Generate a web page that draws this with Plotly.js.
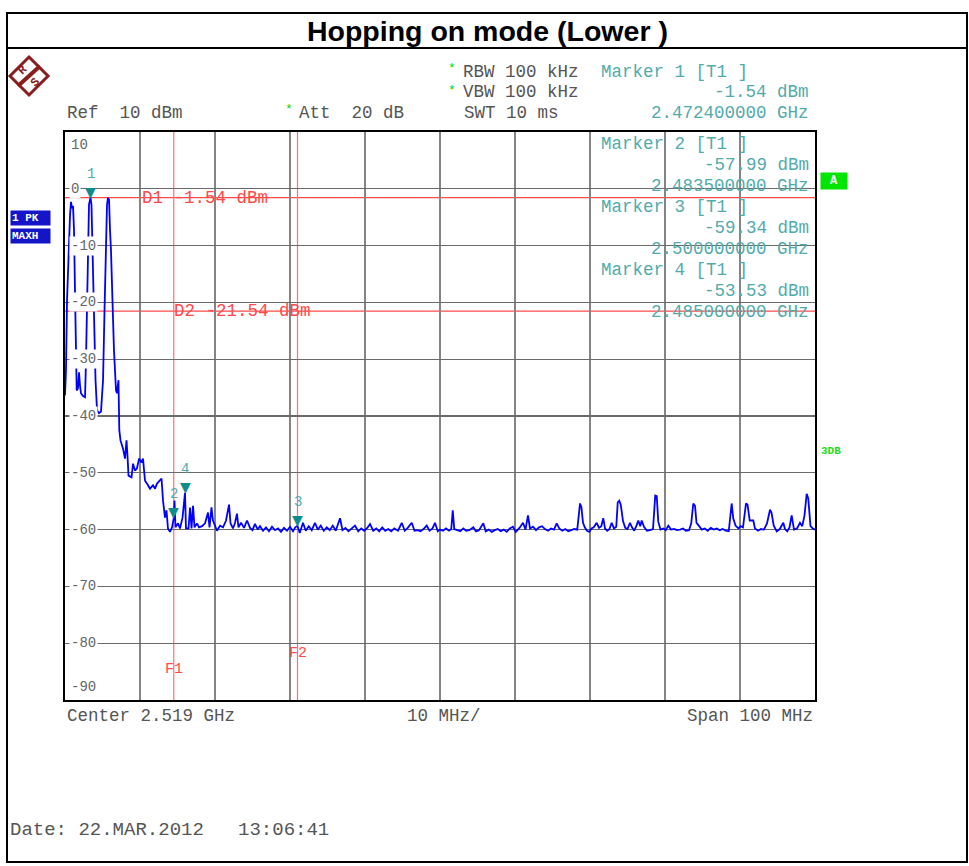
<!DOCTYPE html>
<html>
<head>
<meta charset="utf-8">
<script src="https://cdn.plot.ly/plotly-3.0.1.min.js"></script>
<style>html,body{margin:0;padding:0;background:#fff}#chart{width:969px;height:866px}</style>
</head>
<body>
<div id="chart"></div>
<script>
// ---- Data (frequency in MHz, level in dBm) ----
const freqMHz = [
2469.0,2469.13,2469.27,2469.47,2469.67,2469.8,2469.93,2470.07,2470.2,2470.33,2470.47,2470.56,2470.73,2470.87,2471.0,2471.13,2471.4,2471.67,2471.8,2471.93,
2472.07,2472.2,2472.4,2472.53,2472.67,2472.87,2473.07,2473.27,2473.53,2473.8,2474.07,2474.27,2474.47,2474.6,2474.73,2474.87,2475.0,2475.13,2475.33,2475.53,
2475.8,2475.93,2476.13,2476.24,2476.4,2476.73,2477.0,2477.2,2477.33,2477.47,2477.87,2478.07,2478.33,2478.6,2478.87,2479.2,2479.4,2479.67,2480.07,2480.33,
2480.73,2481.0,2481.27,2481.67,2481.87,2482.07,2482.33,2482.53,2482.73,2483.0,2483.27,2483.5,2483.6,2483.73,2484.07,2484.33,2484.67,2485.0,2485.13,2485.47,
2485.67,2485.87,2486.07,2486.27,2486.6,2486.87,2487.27,2487.67,2488.07,2488.27,2488.53,2488.73,2489.0,2489.27,2489.67,2490.07,2490.47,2490.87,2491.07,2491.4,
2491.67,2491.93,2492.13,2492.47,2492.87,2493.27,2493.67,2494.0,2494.33,2494.7,2495.0,2495.4,2495.8,2496.2,2496.6,2497.0,2497.4,2497.8,2498.2,2498.6,
2499.0,2499.4,2499.7,2500.0,2500.3,2500.73,2501.1,2501.5,2501.9,2502.33,2502.7,2503.1,2503.5,2503.9,2504.3,2504.7,2505.1,2505.67,2506.0,2506.4,
2506.8,2507.2,2507.67,2508.1,2508.5,2508.9,2509.3,2509.67,2510.1,2510.5,2510.9,2511.3,2511.7,2512.1,2512.5,2512.9,2513.4,2513.9,2514.3,2514.7,
2515.23,2515.6,2516.0,2516.4,2516.8,2517.23,2517.6,2518.0,2518.33,2518.7,2519.0,2519.4,2519.8,2520.2,2520.5,2520.7,2520.9,2521.3,2521.7,2522.1,
2522.5,2522.9,2523.44,2523.8,2524.2,2524.77,2525.1,2525.5,2525.9,2526.3,2526.7,2527.1,2527.5,2527.9,2528.3,2528.73,2529.1,2529.6,2530.07,2530.4,
2530.73,2531.0,2531.4,2531.8,2532.2,2532.6,2533.0,2533.4,2533.8,2534.2,2534.56,2534.9,2535.3,2535.7,2536.1,2536.5,2536.9,2537.3,2537.5,2537.67,
2537.85,2538.07,2538.3,2538.6,2538.9,2539.2,2539.5,2539.89,2540.2,2540.5,2540.77,2541.0,2541.3,2541.6,2541.89,2542.2,2542.5,2542.7,2542.9,2543.1,
2543.4,2543.7,2544.0,2544.33,2544.6,2544.9,2545.2,2545.44,2545.7,2545.89,2546.2,2546.6,2547.0,2547.4,2547.7,2547.9,2548.1,2548.4,2548.8,2549.1,
2549.44,2549.8,2550.2,2550.6,2551.0,2551.4,2551.8,2552.2,2552.5,2552.77,2553.0,2553.2,2553.5,2553.9,2554.3,2554.7,2555.1,2555.5,2555.9,2556.3,
2556.7,2557.1,2557.5,2557.89,2558.1,2558.4,2558.8,2559.1,2559.4,2559.8,2560.0,2560.3,2560.77,2561.0,2561.4,2561.8,2562.2,2562.6,2563.0,2563.2,
2563.5,2563.9,2564.3,2564.77,2565.0,2565.3,2565.6,2565.89,2566.2,2566.6,2567.0,2567.3,2567.6,2567.89,2568.1,2568.4,2568.7,2569.0
];
const levelDbm = [
-36.4,-32.0,-19.6,-10.8,-4.6,-2.3,-3.4,-3.0,-7.2,-17.8,-28.4,-35.5,-35.1,-32.3,-34.6,-36.0,-36.5,-36.7,-30.2,-19.6,
-9.0,-2.8,-1.54,-2.8,-10.8,-23.1,-33.7,-39.0,-39.5,-39.2,-33.7,-21.4,-9.0,-2.8,-1.6,-1.9,-7.2,-10.8,-19.6,-28.4,
-35.5,-36.0,-33.7,-42.5,-44.3,-45.7,-47.5,-44.3,-46.9,-50.5,-50.8,-48.4,-49.6,-49.2,-47.5,-48.2,-47.5,-51.4,-52.2,-52.8,
-52.2,-52.8,-51.9,-51.4,-51.0,-54.9,-57.9,-56.6,-59.8,-60.4,-59.6,-57.99,-54.9,-59.6,-58.9,-59.8,-57.9,-53.53,-59.8,-59.8,
-56.1,-59.8,-55.8,-59.6,-58.9,-59.6,-59.4,-58.9,-57.0,-59.6,-56.1,-58.4,-59.3,-60.2,-59.3,-59.6,-58.4,-55.6,-58.9,-59.8,
-58.8,-57.2,-59.6,-58.8,-59.7,-58.4,-59.7,-60.1,-59.0,-60.0,-59.4,-60.2,-59.6,-60.3,-59.5,-60.1,-59.8,-60.4,-59.7,-60.2,
-59.5,-60.3,-59.6,-59.34,-60.6,-58.8,-60.2,-59.4,-60.1,-58.8,-60.0,-59.3,-60.2,-59.6,-60.1,-59.3,-60.2,-58.0,-60.1,-59.7,
-60.3,-59.8,-59.3,-60.3,-59.8,-60.2,-59.7,-59.0,-60.2,-59.8,-60.3,-59.6,-60.2,-59.9,-60.3,-59.8,-60.2,-58.8,-60.2,-59.7,
-58.8,-60.2,-60.1,-60.3,-59.9,-59.3,-60.2,-59.8,-58.8,-60.3,-60.0,-60.2,-59.8,-60.2,-59.9,-56.6,-59.9,-60.1,-60.3,-59.8,
-60.2,-60.1,-59.6,-60.3,-60.1,-58.9,-60.3,-60.0,-60.4,-60.1,-59.9,-60.3,-60.0,-60.4,-59.8,-59.5,-60.4,-59.7,-58.8,-60.0,
-57.5,-59.8,-59.5,-60.1,-59.6,-59.4,-59.9,-60.2,-59.8,-60.0,-58.9,-59.8,-60.2,-59.9,-60.3,-60.1,-59.9,-60.0,-57.5,-55.4,
-56.0,-58.8,-59.6,-60.2,-60.4,-59.8,-59.6,-58.8,-59.7,-59.4,-58.0,-59.8,-60.2,-59.9,-58.8,-59.8,-59.5,-55.2,-54.9,-55.6,
-58.5,-59.7,-59.9,-58.8,-59.6,-60.2,-59.3,-58.4,-59.4,-58.4,-59.5,-60.2,-60.1,-59.9,-54.0,-54.1,-58.6,-60.0,-59.8,-60.1,
-59.3,-60.0,-59.9,-60.1,-60.0,-59.8,-60.2,-60.1,-58.9,-55.4,-55.8,-58.8,-59.3,-60.0,-59.8,-60.2,-59.7,-60.0,-59.8,-60.1,
-59.9,-60.2,-60.3,-55.4,-58.0,-59.3,-59.8,-59.4,-59.6,-55.4,-55.6,-58.4,-58.4,-59.8,-60.2,-59.9,-60.0,-58.9,-56.5,-57.0,
-59.3,-60.3,-59.9,-58.8,-59.9,-60.3,-59.6,-57.5,-60.0,-59.8,-58.8,-59.4,-57.5,-53.7,-54.5,-59.4,-59.8,-60.0
];
const markerNames = ['1','2','3','4'];
const markerFreqMHz = [2472.4, 2483.5, 2500.0, 2485.0];
const markerLevelDbm = [-1.54, -57.99, -59.34, -53.53];
const markerFreqText = ['2.472400000 GHz','2.483500000 GHz','2.500000000 GHz','2.485000000 GHz'];
const dLineNames = ['D1','D2'];
const dLineLevels = [-1.54, -21.54];
const fLineNames = ['F1','F2'];
const fLineFreqs = [2483.5, 2500.0];
const yTickVals = [10,0,-10,-20,-30,-40,-50,-60,-70,-80,-90];
const yTickText = ['10','0','-10','-20','-30','-40','-50','-60','-70','-80','-90'];
const xStart = 2469, xStop = 2569;

// ---- Layout helpers (pixel -> paper) ----
const L = 65, R = 815, T = 132, B = 700;
const X = px => (px - L) / (R - L);
const Y = py => (B - py) / (B - T);
const MONO = 'Liberation Mono, Courier New, monospace';
const TEAL = '#52abab';
const GREY = '#555555';
const RED = '#ff4a4a';
const GREEN = '#00dd00';

const ann = [];
function txt(px, py, text, color, size, anchor, extra) {
  ann.push(Object.assign({xref:'paper', yref:'paper', x:X(px), y:Y(py), text:text, showarrow:false,
    xanchor:anchor||'left', yanchor:'middle', font:{family:MONO, size:size||17.5, color:color||GREY}}, extra||{}));
}
// header texts
txt(65, 113, 'Ref  10 dBm');
txt(295, 110, '*', GREEN, 13, 'right');
txt(297, 113, 'Att  20 dB');
txt(458, 69, '*', GREEN, 13, 'right');
txt(461, 72, 'RBW 100 kHz');
txt(458, 90, '*', GREEN, 13, 'right');
txt(461, 92, 'VBW 100 kHz');
txt(462, 113, 'SWT 10 ms');
// marker readouts
const rowY = [[72,92,113],[144,165,186],[207,228,249],[270,291,312]];
for (let i = 0; i < markerNames.length; i++) {
  txt(599, rowY[i][0], 'Marker ' + markerNames[i] + ' [T1 ]', TEAL);
  txt(811, rowY[i][1], markerLevelDbm[i].toFixed(2) + ' dBm', TEAL, 17.5, 'right');
  txt(811, rowY[i][2], markerFreqText[i], TEAL, 17.5, 'right');
}
// bottom texts
txt(65, 716, 'Center 2.519 GHz');
txt(405, 716, '10 MHz/');
txt(815, 716, 'Span 100 MHz', GREY, 17.5, 'right');
txt(8, 830, 'Date: 22.MAR.2012   13:06:41', GREY, 19);
// side boxes
txt(10, 218, '<b>1 PK</b>', '#ffffff', 11, 'left', {bgcolor:'#1414c8', borderpad:1, width:37, align:'left'});
txt(10, 236, '<b>MAXH</b>', '#ffffff', 11, 'left', {bgcolor:'#1414c8', borderpad:1, width:37, align:'left'});
txt(820, 181, '<b>A</b>', '#ffffff', 12, 'left', {bgcolor:'#00e600', borderpad:1, width:24, height:14});
txt(819, 451, '<b>3DB</b>', '#22dd22', 11, 'left');
// R&S logo letters
txt(23, 70, '<b>R</b>', '#8b1c1c', 12, 'center', {textangle:-45});
txt(35, 83, '<b>S</b>', '#8b1c1c', 12, 'center', {textangle:-45});

// y labels inside the plot
for (let i = 0; i < yTickVals.length; i++) {
  const v = yTickVals[i];
  const a = {xref:'x', yref:'y', x:xStart, y:v, text:yTickText[i], showarrow:false, xanchor:'left',
    xshift:4, font:{family:MONO, size:14, color:'#666'}};
  if (i === 0) { a.yanchor = 'top'; a.yshift = -3; }
  else if (i === yTickVals.length - 1) { a.yanchor = 'bottom'; a.yshift = 3; }
  else { a.yanchor = 'middle'; a.bgcolor = '#ffffff'; }
  ann.push(a);
}
// display line labels
const dLabelX = [2479.0, 2483.3];
for (let i = 0; i < dLineNames.length; i++) {
  ann.push({xref:'x', yref:'y', x:dLabelX[i], y:dLineLevels[i], text:dLineNames[i] + ' ' + dLineLevels[i].toFixed(2) + ' dBm',
    showarrow:false, xanchor:'left', yanchor:'middle', font:{family:MONO, size:17.5, color:RED}});
}
const fLabelY = [-84.7, -81.9];
for (let i = 0; i < fLineNames.length; i++) {
  ann.push({xref:'x', yref:'y', x:fLineFreqs[i], y:fLabelY[i], text:fLineNames[i],
    showarrow:false, xanchor:'center', yanchor:'middle', font:{family:MONO, size:15, color:RED}});
}
// markers: triangle + number
for (let i = 0; i < markerNames.length; i++) {
  ann.push({xref:'x', yref:'y', x:markerFreqMHz[i], y:markerLevelDbm[i], text:'▼', showarrow:false,
    xanchor:'center', yanchor:'bottom', yshift:-4, font:{family:'DejaVu Sans', size:14, color:'#108c8c'}});
  ann.push({xref:'x', yref:'y', x:markerFreqMHz[i], y:markerLevelDbm[i], text:markerNames[i], showarrow:false,
    xanchor:'center', yanchor:'bottom', yshift:14, font:{family:MONO, size:14, color:TEAL}});
}

const shapes = [];
// outer frame and title separator
shapes.push({type:'rect', xref:'paper', yref:'paper', x0:X(7), x1:X(967), y0:Y(862), y1:Y(13), line:{color:'#000', width:2}, layer:'above'});
shapes.push({type:'line', xref:'paper', yref:'paper', x0:X(7), x1:X(967), y0:Y(48), y1:Y(48), line:{color:'#000', width:2}, layer:'above'});
// center line
shapes.push({type:'line', xref:'x', yref:'paper', x0:2519, x1:2519, y0:0, y1:1, line:{color:'#111', width:2}, layer:'below'});
// display lines
for (let i = 0; i < dLineLevels.length; i++) {
  shapes.push({type:'line', xref:'paper', yref:'y', x0:0, x1:1, y0:dLineLevels[i], y1:dLineLevels[i], line:{color:RED, width:1.2}, layer:'below'});
}
for (let i = 0; i < fLineFreqs.length; i++) {
  shapes.push({type:'line', xref:'x', yref:'paper', x0:fLineFreqs[i], x1:fLineFreqs[i], y0:0, y1:1, line:{color:'#ff7070', width:1.2}, layer:'below'});
}
// R&S logo
shapes.push({type:'path', xref:'paper', yref:'paper',
  path:'M '+X(29)+','+Y(57)+' L '+X(48)+','+Y(76)+' L '+X(29)+','+Y(95)+' L '+X(10)+','+Y(76)+' Z',
  line:{color:'#8b1c1c', width:3}, layer:'above'});
shapes.push({type:'line', xref:'paper', yref:'paper', x0:X(18), y0:Y(86), x1:X(40), y1:Y(66), line:{color:'#8b1c1c', width:4}, layer:'above'});

const trace = {x:freqMHz, y:levelDbm, type:'scatter', mode:'lines', line:{color:'#0000ff', width:1.8}, hoverinfo:'skip'};

const layout = {
  width:969, height:866,
  margin:{l:L, r:969-R, t:T, b:866-B, pad:0},
  paper_bgcolor:'#ffffff', plot_bgcolor:'#ffffff',
  showlegend:false,
  title:{text:'<b>Hopping on mode (Lower )</b>', x:0.503, xanchor:'center', yref:'container', y:1-31/866, yanchor:'middle',
    font:{family:'Liberation Sans, Arial, sans-serif', size:28.5, color:'#000'}},
  xaxis:{range:[xStart, xStop], dtick:10, tick0:xStart, showticklabels:false, ticks:'', showgrid:true, gridcolor:'#858585', gridwidth:1.2,
    zeroline:false, showline:true, mirror:true, linecolor:'#000', linewidth:2, fixedrange:true},
  yaxis:{range:[-90, 10], dtick:10, tick0:10, showticklabels:false, ticks:'', showgrid:true, gridcolor:'#6a6a6a', gridwidth:1.2,
    zeroline:false, showline:true, mirror:true, linecolor:'#000', linewidth:2, fixedrange:true},
  annotations:ann,
  shapes:shapes
};
Plotly.newPlot('chart', [trace], layout, {staticPlot:true, displayModeBar:false});
</script>
</body>
</html>
